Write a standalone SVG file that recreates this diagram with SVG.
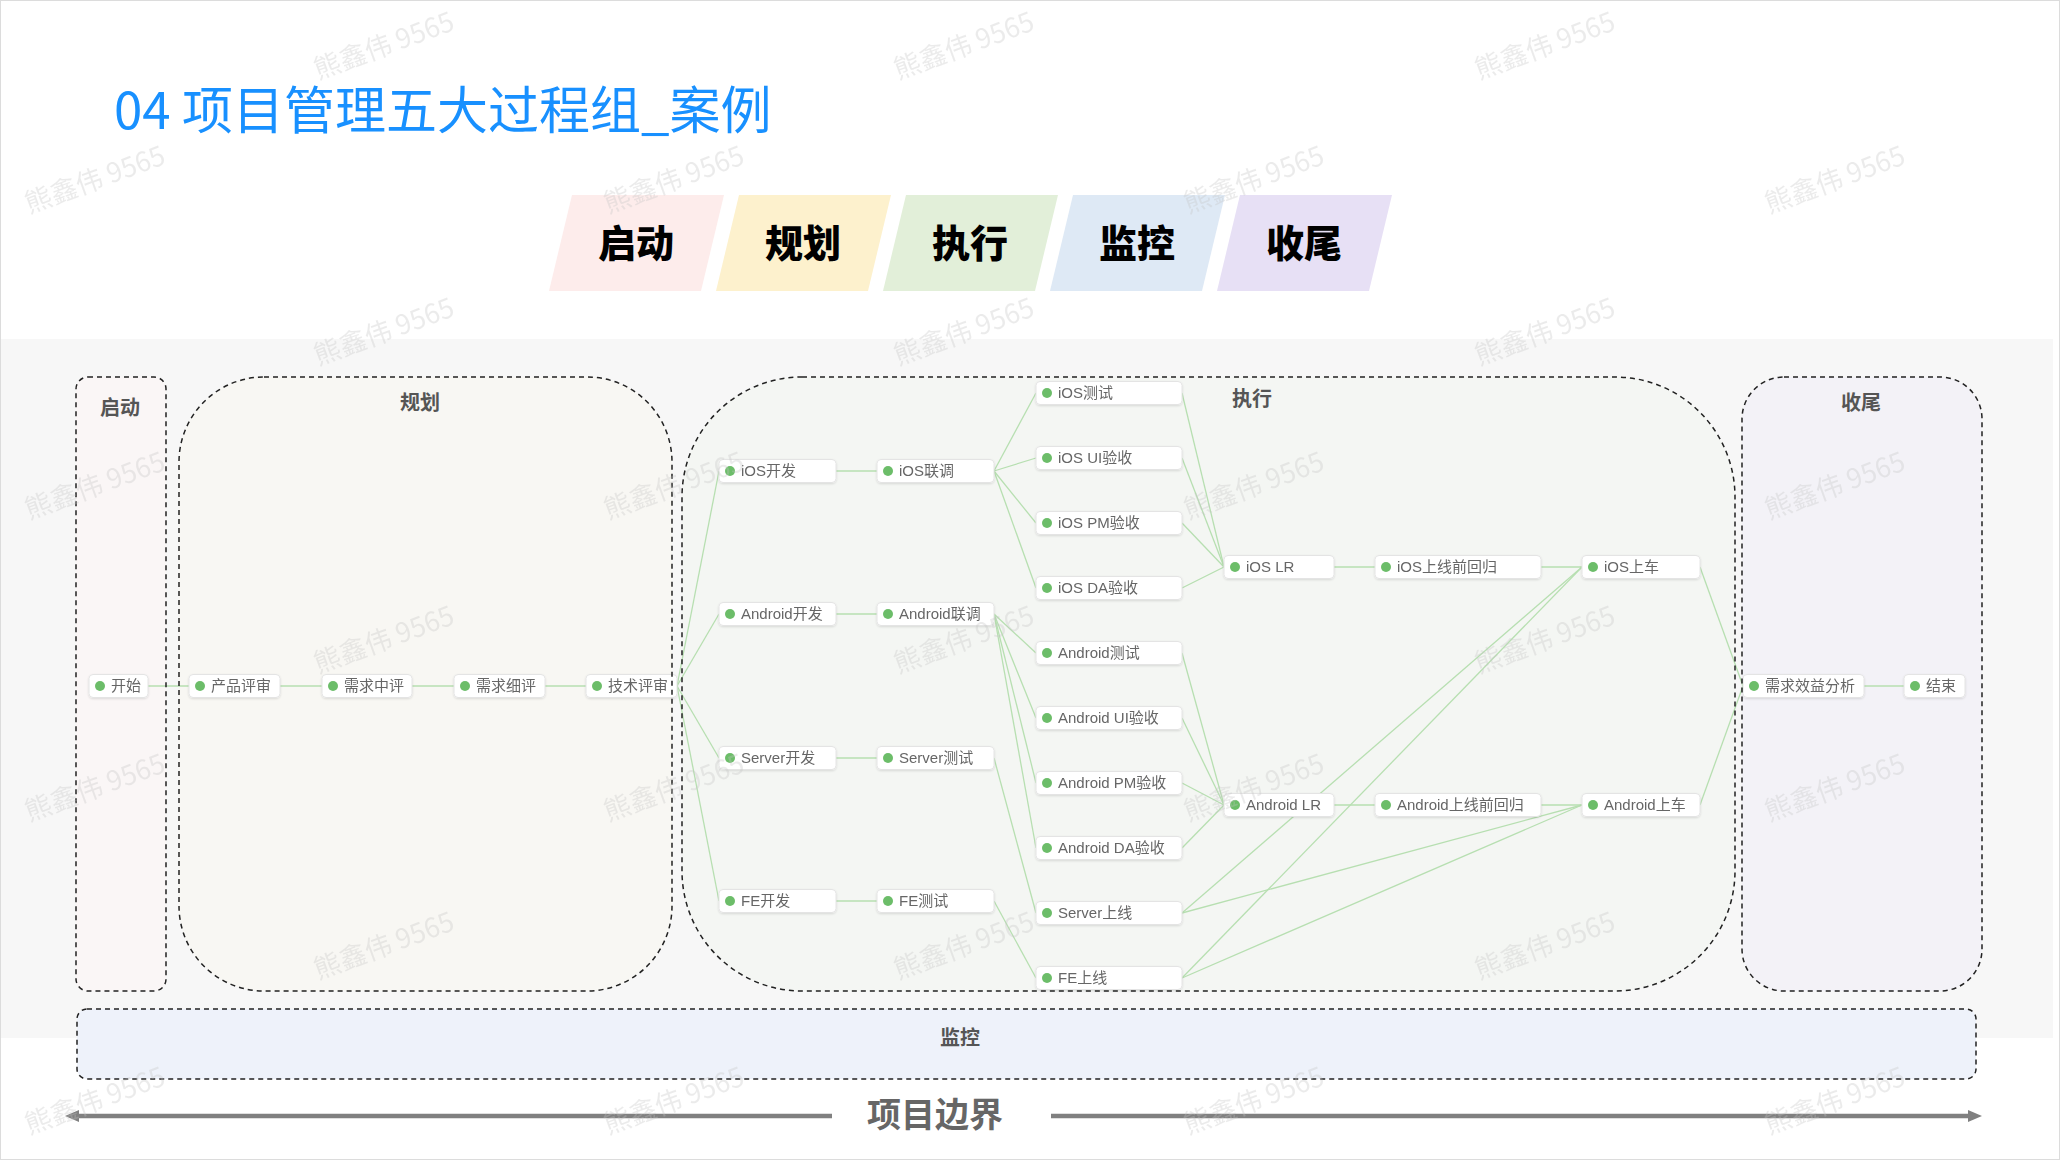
<svg xmlns="http://www.w3.org/2000/svg" width="2060" height="1160" viewBox="0 0 2060 1160">
<defs>
<style>
.cjk{font-family:"Noto Sans CJK SC","Liberation Sans",sans-serif}
.title{font-family:"Noto Sans CJK SC",sans-serif;font-size:51px;fill:#1890ff}
.phase{font-family:"Noto Sans CJK SC",sans-serif;font-size:38px;font-weight:900;fill:#000;text-anchor:middle}
.lanelabel{font-family:"Noto Sans CJK SC",sans-serif;font-size:20px;font-weight:700;fill:#555;text-anchor:middle}
.lane{stroke:#222;stroke-width:1.5;stroke-dasharray:5 4;fill:none}
.node rect{fill:#fff;stroke:#e4e4e4;stroke-width:1}
.node circle{fill:#6cbd69}
.node text{font-family:"Liberation Sans","Noto Sans CJK SC",sans-serif;font-size:15px;fill:#666}
.edge{stroke:#b7dfb1;stroke-width:1.3;fill:none}
.wm{font-family:"Noto Sans CJK SC",sans-serif;font-size:27px;fill:#c4c4c4;opacity:0.32;text-anchor:middle}
.bound{stroke:#808080;stroke-width:4.5;fill:none}
</style>
<filter id="sh" x="-10%" y="-30%" width="120%" height="170%">
<feDropShadow dx="0" dy="1" stdDeviation="1.2" flood-color="#000" flood-opacity="0.12"/>
</filter>
<marker id="ah" viewBox="0 0 14 12" refX="2" refY="6" markerWidth="14" markerHeight="12" markerUnits="userSpaceOnUse" orient="auto-start-reverse">
<path d="M0,0 L14,6 L0,12 Z" fill="#808080"/>
</marker>
</defs>

<rect x="0" y="0" width="2060" height="1160" fill="#fff"/>
<rect x="0" y="339" width="2053" height="699" fill="#f7f7f7"/>
<rect x="0.5" y="0.5" width="2059" height="1159" fill="none" stroke="#dcdcdc" stroke-width="1"/>

<!-- title -->
<text class="title" x="114" y="129">04 项目管理五大过程组_案例</text>

<!-- phase banners -->
<g id="phase-banners">
<g id="banner-qidong"><polygon points="549,291 572,195 724,195 701,291" fill="#fdeceb"/><text class="phase" x="636" y="257">启动</text></g>
<g id="banner-guihua"><polygon points="716,291 739,195 891,195 868,291" fill="#fdf1cd"/><text class="phase" x="803" y="257">规划</text></g>
<g id="banner-zhixing"><polygon points="883,291 906,195 1058,195 1035,291" fill="#e2efd9"/><text class="phase" x="970" y="257">执行</text></g>
<g id="banner-jiankong"><polygon points="1050,291 1073,195 1225,195 1202,291" fill="#dee9f5"/><text class="phase" x="1137" y="257">监控</text></g>
<g id="banner-shouwei"><polygon points="1217,291 1240,195 1392,195 1369,291" fill="#e7e0f5"/><text class="phase" x="1304" y="257">收尾</text></g>
</g>

<!-- lane fills -->
<g id="lane-fills">
<rect x="76" y="377" width="90" height="614" rx="12" fill="#faf6f6"/>
<rect x="179" y="377" width="493" height="614" rx="85" fill="#f8f7f3"/>
<rect x="682" y="377" width="1053" height="614" rx="120" fill="#f4f6f3"/>
<rect x="1742" y="377" width="240" height="614" rx="42" fill="#f3f2f7"/>
<rect x="77" y="1009" width="1899" height="70" rx="10" fill="#eef2fa"/>
</g>

<!-- connectors -->
<g id="connectors">
<line class="edge" x1="148" y1="686" x2="189" y2="686"/>
<line class="edge" x1="280" y1="686" x2="322" y2="686"/>
<line class="edge" x1="412" y1="686" x2="454" y2="686"/>
<line class="edge" x1="545" y1="686" x2="586" y2="686"/>
<line class="edge" x1="677" y1="686" x2="719" y2="471"/>
<line class="edge" x1="677" y1="686" x2="719" y2="614"/>
<line class="edge" x1="677" y1="686" x2="719" y2="758"/>
<line class="edge" x1="677" y1="686" x2="719" y2="901"/>
<line class="edge" x1="836" y1="471" x2="877" y2="471"/>
<line class="edge" x1="836" y1="614" x2="877" y2="614"/>
<line class="edge" x1="836" y1="758" x2="877" y2="758"/>
<line class="edge" x1="836" y1="901" x2="877" y2="901"/>
<line class="edge" x1="994" y1="471" x2="1036" y2="393"/>
<line class="edge" x1="994" y1="471" x2="1036" y2="458"/>
<line class="edge" x1="994" y1="471" x2="1036" y2="523"/>
<line class="edge" x1="994" y1="471" x2="1036" y2="588"/>
<line class="edge" x1="994" y1="614" x2="1036" y2="653"/>
<line class="edge" x1="994" y1="614" x2="1036" y2="718"/>
<line class="edge" x1="994" y1="614" x2="1036" y2="783"/>
<line class="edge" x1="994" y1="614" x2="1036" y2="848"/>
<line class="edge" x1="994" y1="758" x2="1036" y2="913"/>
<line class="edge" x1="994" y1="901" x2="1036" y2="978"/>
<line class="edge" x1="1182" y1="393" x2="1224" y2="567"/>
<line class="edge" x1="1182" y1="458" x2="1224" y2="567"/>
<line class="edge" x1="1182" y1="523" x2="1224" y2="567"/>
<line class="edge" x1="1182" y1="588" x2="1224" y2="567"/>
<line class="edge" x1="1182" y1="653" x2="1224" y2="805"/>
<line class="edge" x1="1182" y1="718" x2="1224" y2="805"/>
<line class="edge" x1="1182" y1="783" x2="1224" y2="805"/>
<line class="edge" x1="1182" y1="848" x2="1224" y2="805"/>
<line class="edge" x1="1334" y1="567" x2="1375" y2="567"/>
<line class="edge" x1="1541" y1="567" x2="1582" y2="567"/>
<line class="edge" x1="1334" y1="805" x2="1375" y2="805"/>
<line class="edge" x1="1541" y1="805" x2="1582" y2="805"/>
<line class="edge" x1="1182" y1="913" x2="1582" y2="567"/>
<line class="edge" x1="1182" y1="913" x2="1582" y2="805"/>
<line class="edge" x1="1182" y1="978" x2="1582" y2="567"/>
<line class="edge" x1="1182" y1="978" x2="1582" y2="805"/>
<line class="edge" x1="1700" y1="567" x2="1743" y2="686"/>
<line class="edge" x1="1700" y1="805" x2="1743" y2="686"/>
<line class="edge" x1="1864" y1="686" x2="1904" y2="686"/>
</g>

<!-- nodes -->
<g id="nodes" filter="url(#sh)">
<g class="node" id="n-kaishi"><rect x="89" y="674.5" width="59" height="23" rx="4"/><circle cx="100" cy="686" r="5"/><text x="111" y="691">开始</text></g>
<g class="node" id="n-chanpinpingshen"><rect x="189" y="674.5" width="91" height="23" rx="4"/><circle cx="200" cy="686" r="5"/><text x="211" y="691">产品评审</text></g>
<g class="node" id="n-xuqiuzhongping"><rect x="322" y="674.5" width="90" height="23" rx="4"/><circle cx="333" cy="686" r="5"/><text x="344" y="691">需求中评</text></g>
<g class="node" id="n-xuqiuxiping"><rect x="454" y="674.5" width="91" height="23" rx="4"/><circle cx="465" cy="686" r="5"/><text x="476" y="691">需求细评</text></g>
<g class="node" id="n-jishupingshen"><rect x="586" y="674.5" width="91" height="23" rx="4"/><circle cx="597" cy="686" r="5"/><text x="608" y="691">技术评审</text></g>

<g class="node" id="n-ios-dev"><rect x="719" y="459.5" width="117" height="23" rx="4"/><circle cx="730" cy="471" r="5"/><text x="741" y="476">iOS开发</text></g>
<g class="node" id="n-android-dev"><rect x="719" y="602.5" width="117" height="23" rx="4"/><circle cx="730" cy="614" r="5"/><text x="741" y="619">Android开发</text></g>
<g class="node" id="n-server-dev"><rect x="719" y="746.5" width="117" height="23" rx="4"/><circle cx="730" cy="758" r="5"/><text x="741" y="763">Server开发</text></g>
<g class="node" id="n-fe-dev"><rect x="719" y="889.5" width="117" height="23" rx="4"/><circle cx="730" cy="901" r="5"/><text x="741" y="906">FE开发</text></g>

<g class="node" id="n-ios-lt"><rect x="877" y="459.5" width="117" height="23" rx="4"/><circle cx="888" cy="471" r="5"/><text x="899" y="476">iOS联调</text></g>
<g class="node" id="n-android-lt"><rect x="877" y="602.5" width="117" height="23" rx="4"/><circle cx="888" cy="614" r="5"/><text x="899" y="619">Android联调</text></g>
<g class="node" id="n-server-test"><rect x="877" y="746.5" width="117" height="23" rx="4"/><circle cx="888" cy="758" r="5"/><text x="899" y="763">Server测试</text></g>
<g class="node" id="n-fe-test"><rect x="877" y="889.5" width="117" height="23" rx="4"/><circle cx="888" cy="901" r="5"/><text x="899" y="906">FE测试</text></g>

<g class="node" id="n-ios-test"><rect x="1036" y="381.5" width="146" height="23" rx="4"/><circle cx="1047" cy="393" r="5"/><text x="1058" y="398">iOS测试</text></g>
<g class="node" id="n-ios-ui"><rect x="1036" y="446.5" width="146" height="23" rx="4"/><circle cx="1047" cy="458" r="5"/><text x="1058" y="463">iOS UI验收</text></g>
<g class="node" id="n-ios-pm"><rect x="1036" y="511.5" width="146" height="23" rx="4"/><circle cx="1047" cy="523" r="5"/><text x="1058" y="528">iOS PM验收</text></g>
<g class="node" id="n-ios-da"><rect x="1036" y="576.5" width="146" height="23" rx="4"/><circle cx="1047" cy="588" r="5"/><text x="1058" y="593">iOS DA验收</text></g>
<g class="node" id="n-android-test"><rect x="1036" y="641.5" width="146" height="23" rx="4"/><circle cx="1047" cy="653" r="5"/><text x="1058" y="658">Android测试</text></g>
<g class="node" id="n-android-ui"><rect x="1036" y="706.5" width="146" height="23" rx="4"/><circle cx="1047" cy="718" r="5"/><text x="1058" y="723">Android UI验收</text></g>
<g class="node" id="n-android-pm"><rect x="1036" y="771.5" width="146" height="23" rx="4"/><circle cx="1047" cy="783" r="5"/><text x="1058" y="788">Android PM验收</text></g>
<g class="node" id="n-android-da"><rect x="1036" y="836.5" width="146" height="23" rx="4"/><circle cx="1047" cy="848" r="5"/><text x="1058" y="853">Android DA验收</text></g>
<g class="node" id="n-server-online"><rect x="1036" y="901.5" width="146" height="23" rx="4"/><circle cx="1047" cy="913" r="5"/><text x="1058" y="918">Server上线</text></g>
<g class="node" id="n-fe-online"><rect x="1036" y="966.5" width="146" height="23" rx="4"/><circle cx="1047" cy="978" r="5"/><text x="1058" y="983">FE上线</text></g>

<g class="node" id="n-ios-lr"><rect x="1224" y="555.5" width="110" height="23" rx="4"/><circle cx="1235" cy="567" r="5"/><text x="1246" y="572">iOS LR</text></g>
<g class="node" id="n-ios-reg"><rect x="1375" y="555.5" width="166" height="23" rx="4"/><circle cx="1386" cy="567" r="5"/><text x="1397" y="572">iOS上线前回归</text></g>
<g class="node" id="n-ios-car"><rect x="1582" y="555.5" width="118" height="23" rx="4"/><circle cx="1593" cy="567" r="5"/><text x="1604" y="572">iOS上车</text></g>
<g class="node" id="n-android-lr"><rect x="1224" y="793.5" width="110" height="23" rx="4"/><circle cx="1235" cy="805" r="5"/><text x="1246" y="810">Android LR</text></g>
<g class="node" id="n-android-reg"><rect x="1375" y="793.5" width="166" height="23" rx="4"/><circle cx="1386" cy="805" r="5"/><text x="1397" y="810">Android上线前回归</text></g>
<g class="node" id="n-android-car"><rect x="1582" y="793.5" width="118" height="23" rx="4"/><circle cx="1593" cy="805" r="5"/><text x="1604" y="810">Android上车</text></g>

<g class="node" id="n-xuqiuxiaoyi"><rect x="1743" y="674.5" width="121" height="23" rx="4"/><circle cx="1754" cy="686" r="5"/><text x="1765" y="691">需求效益分析</text></g>
<g class="node" id="n-jieshu"><rect x="1904" y="674.5" width="61" height="23" rx="4"/><circle cx="1915" cy="686" r="5"/><text x="1926" y="691">结束</text></g>
</g>

<!-- lane outlines and labels -->
<g id="lane-qidong"><rect class="lane" x="76" y="377" width="90" height="614" rx="12"/><text class="lanelabel" x="120" y="415">启动</text></g>
<g id="lane-guihua"><rect class="lane" x="179" y="377" width="493" height="614" rx="85"/><text class="lanelabel" x="420" y="410">规划</text></g>
<g id="lane-zhixing"><rect class="lane" x="682" y="377" width="1053" height="614" rx="120"/><text class="lanelabel" x="1252" y="406">执行</text></g>
<g id="lane-shouwei"><rect class="lane" x="1742" y="377" width="240" height="614" rx="42"/><text class="lanelabel" x="1861" y="410">收尾</text></g>
<g id="lane-jiankong"><rect class="lane" x="77" y="1009" width="1899" height="70" rx="10"/><text class="lanelabel" x="960" y="1045">监控</text></g>

<!-- project boundary -->
<g id="boundary">
<line class="bound" x1="832" y1="1116" x2="77" y2="1116" marker-end="url(#ah)"/>
<line class="bound" x1="1051" y1="1116" x2="1970" y2="1116" marker-end="url(#ah)"/>
<text class="cjk" x="935" y="1127" font-size="34" font-weight="700" fill="#666" text-anchor="middle">项目边界</text>
</g>

<!-- watermarks -->
<g id="watermarks">
<text class="wm" transform="rotate(-20 384 46)" x="384" y="55">熊鑫伟 9565</text>
<text class="wm" transform="rotate(-20 964 46)" x="964" y="55">熊鑫伟 9565</text>
<text class="wm" transform="rotate(-20 1545 46)" x="1545" y="55">熊鑫伟 9565</text>
<text class="wm" transform="rotate(-20 95 180)" x="95" y="189">熊鑫伟 9565</text>
<text class="wm" transform="rotate(-20 674 180)" x="674" y="189">熊鑫伟 9565</text>
<text class="wm" transform="rotate(-20 1254 180)" x="1254" y="189">熊鑫伟 9565</text>
<text class="wm" transform="rotate(-20 1835 180)" x="1835" y="189">熊鑫伟 9565</text>
<text class="wm" transform="rotate(-20 384 332)" x="384" y="341">熊鑫伟 9565</text>
<text class="wm" transform="rotate(-20 964 332)" x="964" y="341">熊鑫伟 9565</text>
<text class="wm" transform="rotate(-20 1545 332)" x="1545" y="341">熊鑫伟 9565</text>
<text class="wm" transform="rotate(-20 95 486)" x="95" y="495">熊鑫伟 9565</text>
<text class="wm" transform="rotate(-20 674 486)" x="674" y="495">熊鑫伟 9565</text>
<text class="wm" transform="rotate(-20 1254 486)" x="1254" y="495">熊鑫伟 9565</text>
<text class="wm" transform="rotate(-20 1835 486)" x="1835" y="495">熊鑫伟 9565</text>
<text class="wm" transform="rotate(-20 384 640)" x="384" y="649">熊鑫伟 9565</text>
<text class="wm" transform="rotate(-20 964 640)" x="964" y="649">熊鑫伟 9565</text>
<text class="wm" transform="rotate(-20 1545 640)" x="1545" y="649">熊鑫伟 9565</text>
<text class="wm" transform="rotate(-20 95 788)" x="95" y="797">熊鑫伟 9565</text>
<text class="wm" transform="rotate(-20 674 788)" x="674" y="797">熊鑫伟 9565</text>
<text class="wm" transform="rotate(-20 1254 788)" x="1254" y="797">熊鑫伟 9565</text>
<text class="wm" transform="rotate(-20 1835 788)" x="1835" y="797">熊鑫伟 9565</text>
<text class="wm" transform="rotate(-20 384 946)" x="384" y="955">熊鑫伟 9565</text>
<text class="wm" transform="rotate(-20 964 946)" x="964" y="955">熊鑫伟 9565</text>
<text class="wm" transform="rotate(-20 1545 946)" x="1545" y="955">熊鑫伟 9565</text>
<text class="wm" transform="rotate(-20 95 1101)" x="95" y="1110">熊鑫伟 9565</text>
<text class="wm" transform="rotate(-20 674 1101)" x="674" y="1110">熊鑫伟 9565</text>
<text class="wm" transform="rotate(-20 1254 1101)" x="1254" y="1110">熊鑫伟 9565</text>
<text class="wm" transform="rotate(-20 1835 1101)" x="1835" y="1110">熊鑫伟 9565</text>
</g>
</svg>
